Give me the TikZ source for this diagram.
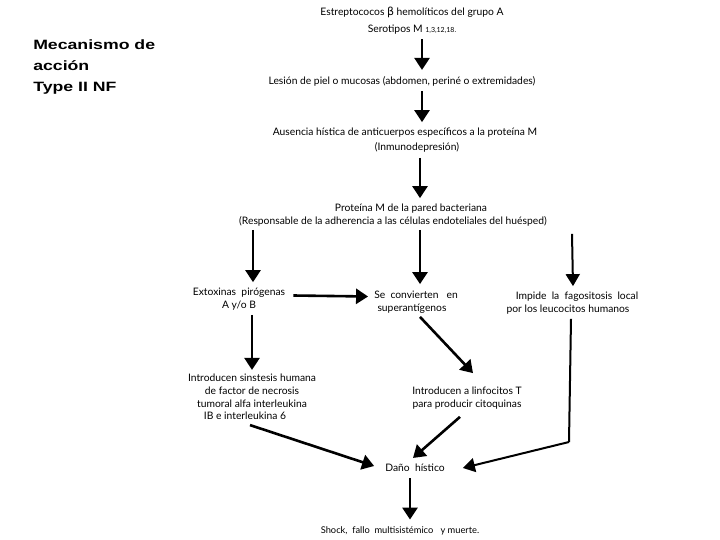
\documentclass[tikz,border=0pt]{standalone}
\usepackage{fontspec}
\setmainfont{Lato}
\newfontfamily\titlefont{Liberation Sans}
\newfontfamily\symfont{DejaVu Sans}
\usetikzlibrary{arrows.meta,calc}
\begin{document}
\begin{tikzpicture}[x=1pt,y=-1pt,
  txt/.style={inner sep=0pt, align=center, font=\fontsize{10.3}{13}\selectfont},
  flow/.style={line width=2.6pt, -{Triangle[width=15pt,length=12pt]}},
  thinflow/.style={line width=2pt, -{Triangle[width=14pt,length=12pt]}},
  plainline/.style={line width=2pt}]
\useasboundingbox (0,0) rectangle (720,540);
\fill[white] (0,0) rectangle (720,540);
% title
\node[anchor=north west, inner sep=0pt, align=left, xscale=1.31, transform shape,
  font=\titlefont\bfseries\fontsize{13.5}{21}\selectfont] (title) at (33,40)
  {Mecanismo de\\acción\\Type II NF};
% nodes
\node[txt, font=\fontsize{10.3}{17}\selectfont] (n1) at (412,20.5)
  {Estreptococos {\symfont\fontsize{11}{13}\selectfont β} hemolíticos del grupo A\\Serotipos M {\fontsize{7}{8}\selectfont 1,3,12,18.}};
\node[txt] (n2) at (402,81) {Lesión de piel o mucosas (abdomen, periné o extremidades)};
\node[txt, font=\fontsize{10.3}{15}\selectfont] (n3) at (405,140.5)
  {Ausencia hística de anticuerpos específicos a la proteína M\\\hspace*{24pt}(Inmunodepresión)};
\node[txt] (n4) at (393,215.5)
  {\hspace*{36pt}Proteína M de la pared bacteriana\\(Responsable de la adherencia a las células endoteliales del huésped)};
\node[txt] (n5) at (239,299.5) {Extoxinas \ pirógenas\\A y/o B};
\node[txt] (n6) at (416,302.5) {Se \ convierten \ \ en\\superantígenos\hspace*{8pt}};
\node[txt] (n7) at (572,303.5) {\hspace*{10pt}Impide \ la \ fagositosis \ local\\por los leucocitos humanos\hspace*{8pt}};
\node[txt, font=\fontsize{10.3}{12.7}\selectfont] (n8) at (252,397)
  {Introducen sinstesis humana\\de factor de necrosis\\tumoral alfa interleukina\\IB e interleukina 6\hspace*{14pt}};
\node[txt] (n9) at (467,398.5) {Introducen a linfocitos T\\para producir citoquinas};
\node[txt] (n10) at (415,468) {Daño \ hístico};
\node[txt, font=\fontsize{9.3}{13}\selectfont] (n11) at (400,531) {Shock, \ fallo \ multisistémico \ \ y muerte.};
% connectors
\draw[flow] ($(n1.south)+(10,5)$) -- ($(n2.north)+(20,-6)$);
\draw[flow] ($(n2.south)+(20,5)$) -- ($(n3.north)+(17,-6)$);
\draw[flow] ($(n3.south)+(15,5)$) -- ($(n4.north)+(27,-6)$);
\draw[flow] ($(n4.south)+(-140,3)$) -- ($(n5.north)+(14,-6)$);
\draw[flow] ($(n4.south)+(27,3)$) -- ($(n6.north)+(4,-7)$);
\draw[thinflow] ($(n4.south)+(179,7)$) -- ($(n7.north)+(1,-6)$);
\draw[flow] ($(n5.east)+(8,-4)$) -- ($(n6.west)+(-6,-6)$);
\draw[flow] ($(n5.south)+(13,4)$) -- ($(n8.north)+(0,-4)$);
\draw[flow] ($(n6.south)+(4,3)$) -- ($(n9.north)+(6,-14)$);
\draw[flow] ($(n8.south)+(-2,5)$) -- ($(n10.west)+(-11,-2)$);
\draw[flow] ($(n9.south)+(-7,7)$) -- ($(n10.north)+(-2,-6)$);
\coordinate (bend) at (569,442);
\draw[plainline] ($(n7.south)+(-1,4)$) -- (bend);
\draw[thinflow] (bend) -- ($(n10.east)+(18,0)$);
\draw[flow] ($(n10.south)+(-5,6)$) -- ($(n11.north)+(10,-7)$);
\end{tikzpicture}
\end{document}
